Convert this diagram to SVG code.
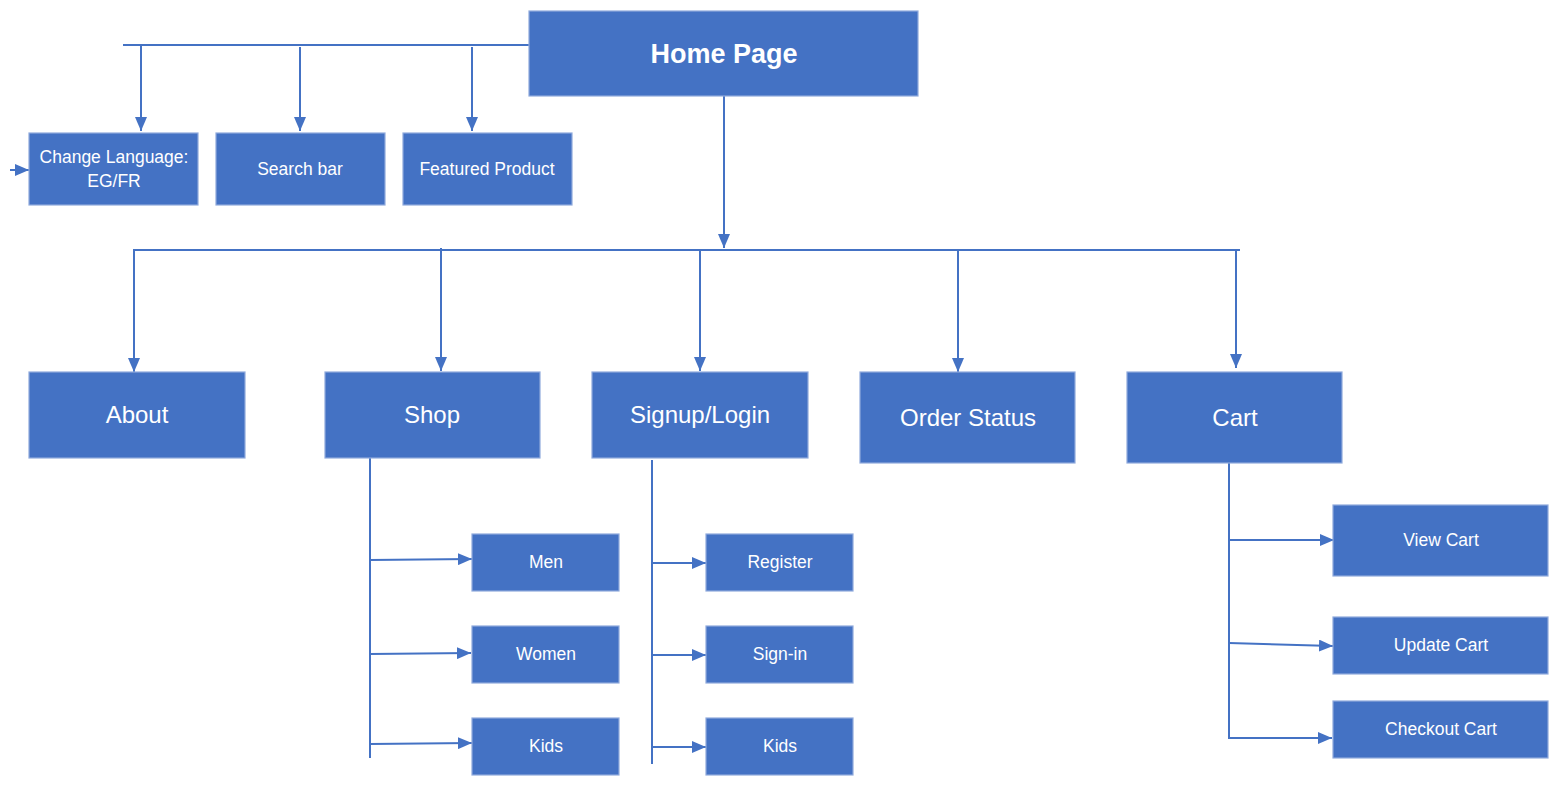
<svg xmlns="http://www.w3.org/2000/svg" width="1559" height="787" viewBox="0 0 1559 787">
<style>
.box{fill:#4472C4;stroke:#8FAADC;stroke-width:1.2}
.t{font-family:"Liberation Sans","Noto Sans",sans-serif;fill:#fff;text-anchor:middle;dominant-baseline:central}
.s{font-size:17.5px}
.m{font-size:24px}
.b{font-size:27px;font-weight:bold}
.c{fill:none;stroke:#4472C4;stroke-width:2}
</style>
<defs>
<marker id="ah" viewBox="0 0 14 12" refX="14" refY="6" markerWidth="14" markerHeight="12" markerUnits="userSpaceOnUse" orient="auto">
<path d="M0,0 L14,6 L0,12 Z" fill="#4472C4"/>
</marker>
</defs>
<rect width="1559" height="787" fill="#fff"/>
<g id="connectors">
<path class="c" d="M123,45 H529"/>
<path class="c" d="M141,45 V131" marker-end="url(#ah)"/>
<path class="c" d="M300,47 V131" marker-end="url(#ah)"/>
<path class="c" d="M472,47 V131" marker-end="url(#ah)"/>
<path class="c" d="M10,170 H29" marker-end="url(#ah)"/>
<path class="c" d="M724,96 V248" marker-end="url(#ah)"/>
<path class="c" d="M133,250 H1240"/>
<path class="c" d="M134,250 V372" marker-end="url(#ah)"/>
<path class="c" d="M441,248 V371" marker-end="url(#ah)"/>
<path class="c" d="M700,250 V371" marker-end="url(#ah)"/>
<path class="c" d="M958,250 V372" marker-end="url(#ah)"/>
<path class="c" d="M1236,250 V368" marker-end="url(#ah)"/>
<path class="c" d="M370,458 V758"/>
<path class="c" d="M370,560 L472,559" marker-end="url(#ah)"/>
<path class="c" d="M370,654 L471,653" marker-end="url(#ah)"/>
<path class="c" d="M370,744 L472,743" marker-end="url(#ah)"/>
<path class="c" d="M652,460 V764"/>
<path class="c" d="M652,563 H706" marker-end="url(#ah)"/>
<path class="c" d="M652,655 H706" marker-end="url(#ah)"/>
<path class="c" d="M652,747 H706" marker-end="url(#ah)"/>
<path class="c" d="M1229,463 V738 H1332" marker-end="url(#ah)"/>
<path class="c" d="M1229,540 H1334" marker-end="url(#ah)"/>
<path class="c" d="M1229,643 L1333,646" marker-end="url(#ah)"/>
</g>
<g id="home"><rect class="box" x="529" y="11" width="389" height="85"/><text class="t b" x="724" y="54">Home Page</text></g>
<g id="lang"><rect class="box" x="29" y="133" width="169" height="72"/><text class="t s" x="114" y="157">Change Language:</text><text class="t s" x="114" y="181">EG/FR</text></g>
<g id="search"><rect class="box" x="216" y="133" width="169" height="72"/><text class="t s" x="300" y="169">Search bar</text></g>
<g id="featured"><rect class="box" x="403" y="133" width="169" height="72"/><text class="t s" x="487" y="169">Featured Product</text></g>
<g id="about"><rect class="box" x="29" y="372" width="216" height="86"/><text class="t m" x="137" y="414">About</text></g>
<g id="shop"><rect class="box" x="325" y="372" width="215" height="86"/><text class="t m" x="432" y="414">Shop</text></g>
<g id="signup"><rect class="box" x="592" y="372" width="216" height="86"/><text class="t m" x="700" y="414">Signup/Login</text></g>
<g id="order"><rect class="box" x="860" y="372" width="215" height="91"/><text class="t m" x="968" y="417">Order Status</text></g>
<g id="cart"><rect class="box" x="1127" y="372" width="215" height="91"/><text class="t m" x="1235" y="417">Cart</text></g>
<g id="men"><rect class="box" x="472" y="534" width="147" height="57"/><text class="t s" x="546" y="562">Men</text></g>
<g id="women"><rect class="box" x="472" y="626" width="147" height="57"/><text class="t s" x="546" y="654">Women</text></g>
<g id="kids1"><rect class="box" x="472" y="718" width="147" height="57"/><text class="t s" x="546" y="746">Kids</text></g>
<g id="register"><rect class="box" x="706" y="534" width="147" height="57"/><text class="t s" x="780" y="562">Register</text></g>
<g id="signin"><rect class="box" x="706" y="626" width="147" height="57"/><text class="t s" x="780" y="654">Sign-in</text></g>
<g id="kids2"><rect class="box" x="706" y="718" width="147" height="57"/><text class="t s" x="780" y="746">Kids</text></g>
<g id="view"><rect class="box" x="1333" y="505" width="215" height="71"/><text class="t s" x="1441" y="540">View Cart</text></g>
<g id="update"><rect class="box" x="1333" y="617" width="215" height="57"/><text class="t s" x="1441" y="645">Update Cart</text></g>
<g id="checkout"><rect class="box" x="1333" y="701" width="215" height="57"/><text class="t s" x="1441" y="729">Checkout Cart</text></g>
</svg>
